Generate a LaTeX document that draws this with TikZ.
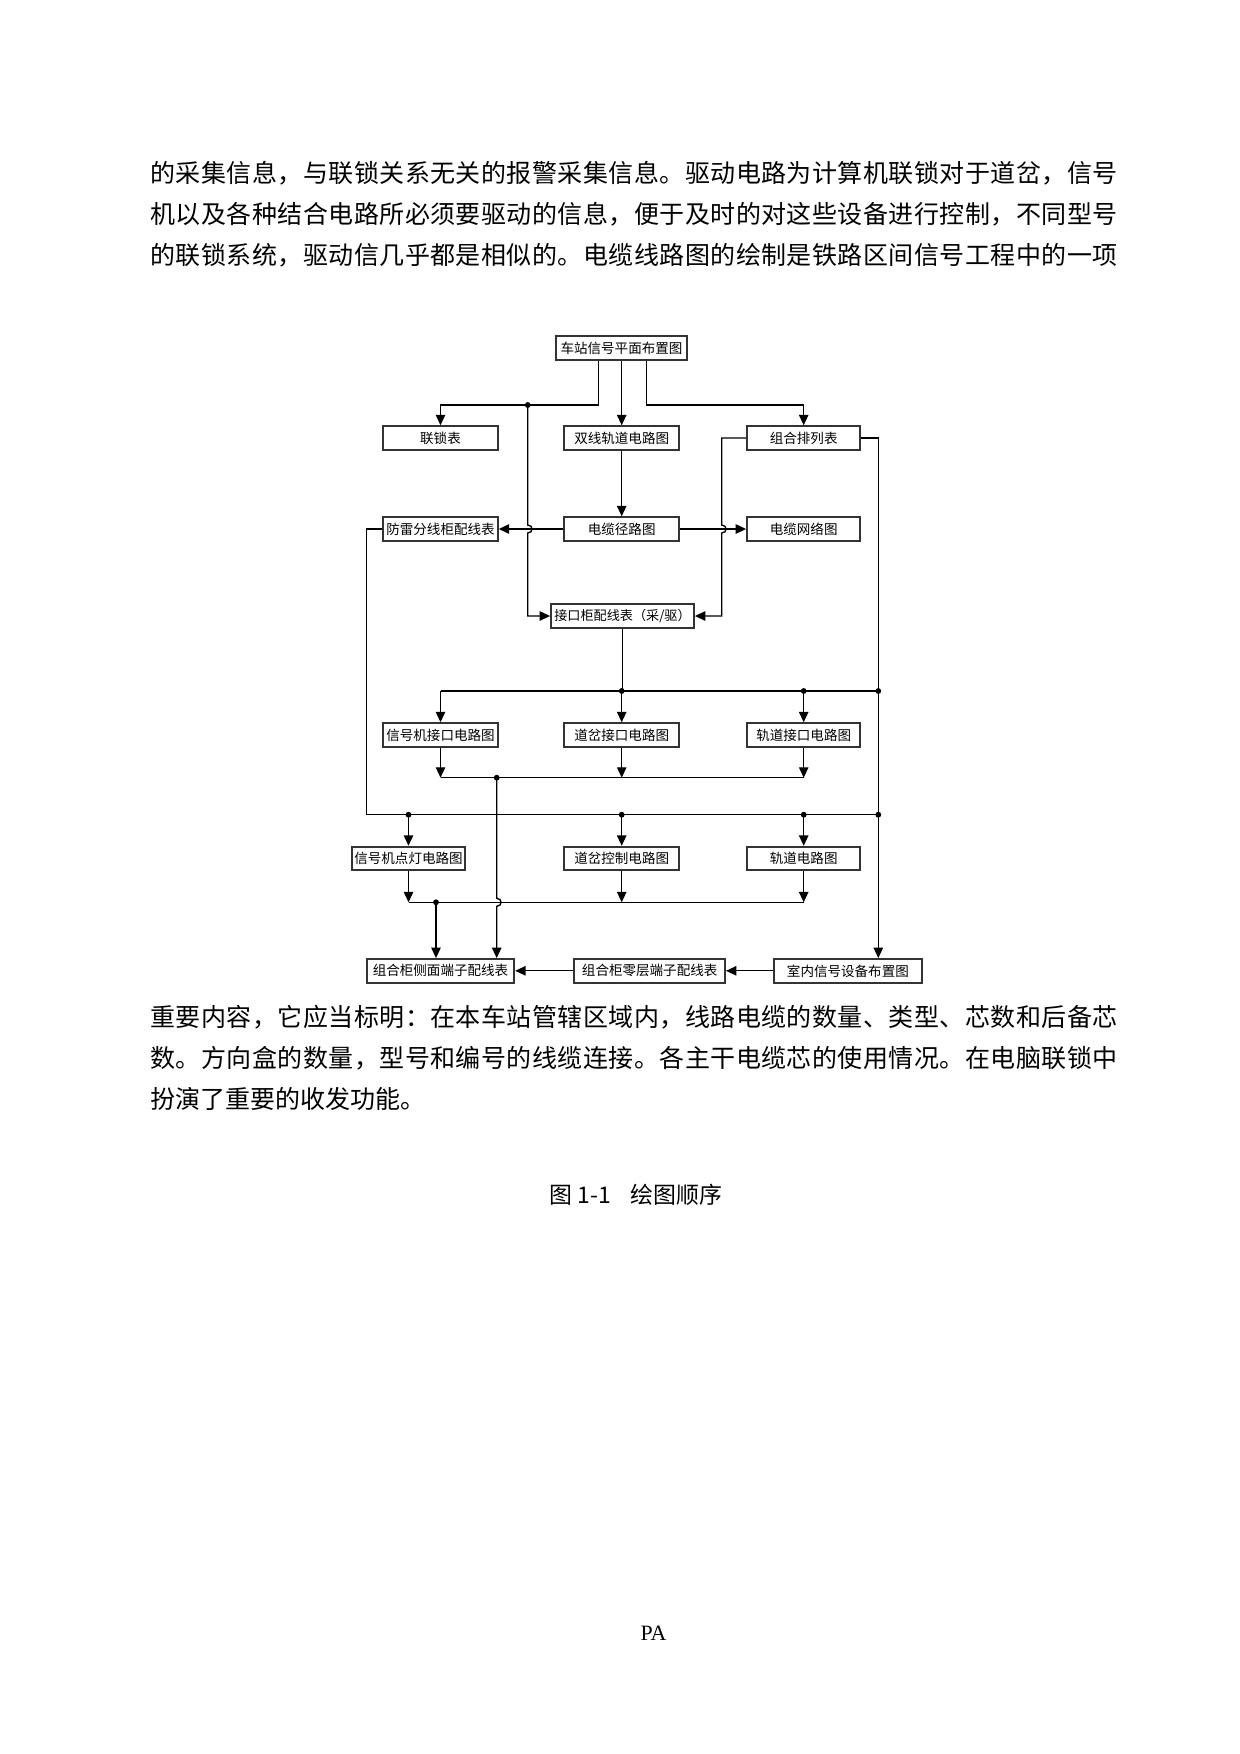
\documentclass[tikz,border=0pt]{standalone}
\usepackage{fontspec}
\setmainfont{Liberation Serif}
\newfontfamily\cjk{Noto Sans CJK SC}
\usetikzlibrary{arrows.meta}
\def\spreadaux#1{\ifx#1\relax\else#1\hfil\expandafter\spreadaux\fi}
\newcommand\spreadtext[2]{\hbox to #1{\spreadaux#2\relax\unskip}}
\tikzset{
  box/.style={draw=black!80, line width=0.9pt, fill=white, inner sep=0pt,
    minimum height=11.3pt, font=\cjk\fontsize{6.5}{7}\selectfont},
  link/.style={line width=0.65pt, -{Triangle[length=5pt,width=4.5pt]}},
  wire/.style={line width=0.65pt},
  jdot/.style={circle, fill=black, inner sep=0pt, minimum size=2.8pt},
  bodytext/.style={inner sep=0pt, anchor=west, font=\cjk\fontsize{12}{14}\selectfont},
}
\begin{document}
\begin{tikzpicture}[x=0.48pt, y=-0.48pt]
\useasboundingbox (0,0) rectangle (1240,1754);

% body text
\node[bodytext] (p1) at (150,173) {\spreadtext{464.2pt}{的采集信息，与联锁关系无关的报警采集信息。驱动电路为计算机联锁对于道岔，信号}};
\node[bodytext] (p2) at (150,214) {\spreadtext{464.2pt}{机以及各种结合电路所必须要驱动的信息，便于及时的对这些设备进行控制，不同型号}};
\node[bodytext] (p3) at (150,255) {\spreadtext{464.2pt}{的联锁系统，驱动信几乎都是相似的。电缆线路图的绘制是铁路区间信号工程中的一项}};
\node[bodytext] (p4) at (150,1017) {\spreadtext{464.2pt}{重要内容，它应当标明：在本车站管辖区域内，线路电缆的数量、类型、芯数和后备芯}};
\node[bodytext] (p5) at (150,1058) {\spreadtext{464.2pt}{数。方向盒的数量，型号和编号的线缆连接。各主干电缆芯的使用情况。在电脑联锁中}};
\node[bodytext] (p6) at (150,1099) {扮演了重要的收发功能。};

% caption and footer
\node[inner sep=0pt, anchor=west, font=\cjk\fontsize{11}{13}\selectfont] (cap1) at (549,1195) {图 1-1};
\node[inner sep=0pt, anchor=west, font=\cjk\fontsize{11}{13}\selectfont] (cap2) at (630,1195) {绘图顺序};
\node[inner sep=0pt, font=\fontsize{10.5}{12}\selectfont] (pg) at (653.5,1633.5) {PA};

% boxes
\node[box, minimum width=62.9pt] (top) at (621.5,348) {车站信号平面布置图};
\node[box, minimum width=55pt] (lsb) at (440.5,438) {联锁表};
\node[box, minimum width=55pt] (sx) at (621.7,438) {双线轨道电路图};
\node[box, minimum width=54.4pt] (zh) at (803.7,438) {组合排列表};
\node[box, minimum width=55pt] (fl) at (440.5,529) {防雷分线柜配线表};
\node[box, minimum width=55pt] (dj) at (621.7,529) {电缆径路图};
\node[box, minimum width=54.4pt] (dw) at (803.7,529) {电缆网络图};
\node[box, minimum width=68.6pt, font=\cjk\fontsize{6.3}{7}\selectfont] (jk) at (622.5,616) {接口柜配线表（采/驱）};
\node[box, minimum width=55pt] (xj) at (440.5,735) {信号机接口电路图};
\node[box, minimum width=55pt] (dcj) at (621.7,735) {道岔接口电路图};
\node[box, minimum width=54.4pt] (gj) at (803.7,735) {轨道接口电路图};
\node[box, minimum width=54.5pt] (xd) at (408.5,858.5) {信号机点灯电路图};
\node[box, minimum width=55pt] (dk) at (621.7,858.5) {道岔控制电路图};
\node[box, minimum width=54.4pt] (gd) at (803.7,858.5) {轨道电路图};
\node[box, minimum width=70.8pt] (cm) at (440.5,970.8) {组合柜侧面端子配线表};
\node[box, minimum width=72.3pt] (lc) at (649.7,970.8) {组合柜零层端子配线表};
\node[box, minimum width=70.9pt] (sn) at (847.9,970.8) {室内信号设备布置图};

% helper coordinates
\coordinate (b1) at (598.3,405);
\coordinate (b3) at (646.3,405);
\coordinate (jA) at (527.7,405);
\coordinate (hA1) at (527.7,525);
\coordinate (hA2) at (527.7,533);
\coordinate (jB) at (721.7,616);
\coordinate (hB1) at (721.7,525);
\coordinate (hB2) at (721.7,533);
\coordinate (xR) at (878.3,438);
\coordinate (xL) at (366.7,529);
\coordinate (yB1) at (0,691);
\coordinate (yB2) at (0,777.7);
\coordinate (yL) at (0,814.7);
\coordinate (yB3) at (0,902.3);
\coordinate (jC) at (496.7,777.7);
\coordinate (hC1) at (496.7,898.3);
\coordinate (hC2) at (496.7,906.3);
\coordinate (jD) at (436,902.3);

% top connectors
\draw[link] (b1 |- top.south) -- (b1) -| (lsb.north);
\draw[link] (sx.north |- top.south) -- (sx.north);
\draw[link] (b3 |- top.south) -- (b3) -| (zh.north);
\draw[link] (jA) -- (hA1) .. controls (533.5,525) and (533.5,533) .. (hA2) -- (jA |- jk) -- (jk.west);
\draw[link] (sx.south) -- (dj.north);
\draw[link] (dj.west) -- (fl.east);
\draw[link] (dj.east) -- (dw.west);
\draw[link] (zh.west) -- (hB1 |- zh.west) -- (hB1) .. controls (727.5,525) and (727.5,533) .. (hB2) -- (jB) -- (jk.east);
\draw[link] (zh.east) -| (xR |- sn.north);
\draw[wire] (fl.west) -| (xL |- yL) -- (xR |- yL);

% first bus
\draw[wire] (jk.south) -- (jk.south |- yB1);
\draw[wire] (xj.north |- yB1) -- (xR |- yB1);
\draw[link] (xj.north |- yB1) -- (xj.north);
\draw[link] (dcj.north |- yB1) -- (dcj.north);
\draw[link] (gj.north |- yB1) -- (gj.north);

% second bus
\draw[link] (xj.south) -- (xj.south |- yB2);
\draw[link] (dcj.south) -- (dcj.south |- yB2);
\draw[link] (gj.south) -- (gj.south |- yB2);
\draw[wire] (xj.south |- yB2) -- (gj.south |- yB2);
\draw[link] (jC) -- (hC1) .. controls (502.5,898.3) and (502.5,906.3) .. (hC2) -- (jC |- cm.north);

% left bus
\draw[link] (xd.north |- yL) -- (xd.north);
\draw[link] (dk.north |- yL) -- (dk.north);
\draw[link] (gd.north |- yL) -- (gd.north);

% third bus
\draw[link] (xd.south) -- (xd.south |- yB3);
\draw[link] (dk.south) -- (dk.south |- yB3);
\draw[link] (gd.south) -- (gd.south |- yB3);
\draw[wire] (xd.south |- yB3) -- (gd.south |- yB3);
\draw[link] (jD) -- (jD |- cm.north);

% bottom row
\draw[link] (sn.west) -- (lc.east);
\draw[link] (lc.west) -- (cm.east);

% junction dots
\node[jdot] (d1) at (jA) {};
\node[jdot] (d2) at (dcj.north |- yB1) {};
\node[jdot] (d3) at (gj.north |- yB1) {};
\node[jdot] (d4) at (xR |- yB1) {};
\node[jdot] (d5) at (jC) {};
\node[jdot] (d6) at (xd.north |- yL) {};
\node[jdot] (d7) at (dk.north |- yL) {};
\node[jdot] (d8) at (gd.north |- yL) {};
\node[jdot] (d9) at (xR |- yL) {};
\node[jdot] (d10) at (jD) {};
\end{tikzpicture}
\end{document}
